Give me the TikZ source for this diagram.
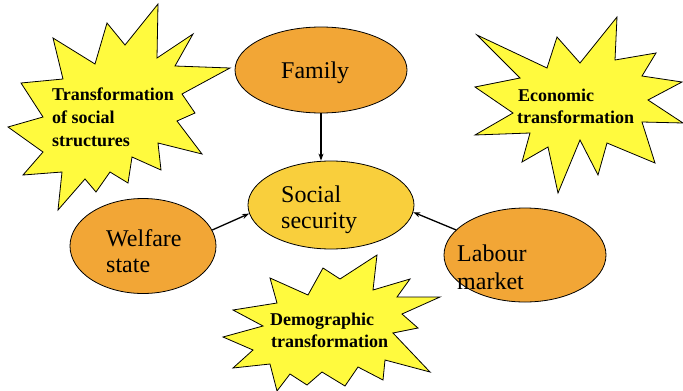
\documentclass[tikz,border=0pt]{standalone}
\usepackage{fontspec}
\setmainfont{Liberation Serif}
\usetikzlibrary{shapes.geometric,arrows.meta}
\definecolor{orangefill}{RGB}{242,166,54}
\definecolor{secfill}{RGB}{249,207,60}
\definecolor{staryellow}{RGB}{255,250,62}
\begin{document}
\begin{tikzpicture}[x=1pt,y=-1pt,
 oval/.style={ellipse,draw=black,line width=0.8pt,inner sep=0pt},
 burst/.style={draw=black,line width=0.8pt,fill=staryellow,line join=miter},
 bigtxt/.style={font=\fontsize{24}{28}\selectfont,inner sep=0pt,anchor=base west},
 boldtxt/.style={font=\fontsize{18}{22}\selectfont\bfseries,inner sep=0pt,anchor=base west},
 link/.style={-{Stealth[length=7pt,width=5pt]},line width=1.3pt}]
\useasboundingbox (0,0) rectangle (683,391);
\fill[white] (0,0) rectangle (683,391);
% starburst 1
\draw[burst] (158,4) -- (157,58) -- (193,34) -- (175,66) -- (230,68) -- (182,94) -- (195,113) -- (177,121) -- (202,154) -- (158,143) -- (161,170) -- (132,157) -- (128,183) -- (110,172) -- (96,192) -- (85,179) -- (58,210) -- (62,172) -- (23,175) -- (43,152) -- (8,127) -- (43,117) -- (21,83) -- (63,79) -- (53,38) -- (95,64) -- (107,23) -- (125,45) -- cycle;
% starburst 2
\draw[burst] (617,17) -- (615,60) -- (656,53) -- (642,76) -- (682,82) -- (648,100) -- (683,123) -- (642,122) -- (655,163) -- (607,143) -- (598,175) -- (580,140) -- (558,193) -- (548,147) -- (522,162) -- (530,133) -- (475,135) -- (513,113) -- (475,87) -- (520,78) -- (477,35) -- (547,68) -- (557,37) -- (580,63) -- cycle;
% starburst 3
\draw[burst] (377,255) -- (373,290) -- (410,279) -- (397,297) -- (440,297) -- (402,314) -- (418,328) -- (393,333) -- (430,372) -- (385,360) -- (383,380) -- (358,367) -- (345,386) -- (322,372) -- (307,385) -- (290,374) -- (277,391) -- (270,364) -- (233,368) -- (253,350) -- (223,337) -- (263,326) -- (233,310) -- (277,303) -- (270,278) -- (308,295) -- (323,268) -- (340,279) -- cycle;
% ellipses
\node[oval,fill=orangefill,minimum width=172pt,minimum height=86pt] (family) at (321,70) {};
\node[oval,fill=secfill,minimum width=166pt,minimum height=88pt] (social) at (331,205) {};
\node[oval,fill=orangefill,minimum width=146pt,minimum height=95pt] (welfare) at (143,246) {};
\node[oval,fill=orangefill,minimum width=162pt,minimum height=94pt] (labour) at (525,255) {};
% texts
\node[bigtxt] (tfam) at (281,78) {Family};
\node[bigtxt] (tsoc1) at (281,202) {Social};
\node[bigtxt] (tsoc2) at (281,228) {security};
\node[bigtxt] (twel1) at (106,246) {Welfare};
\node[bigtxt] (twel2) at (106,272) {state};
\node[bigtxt] (tlab1) at (457,261) {Labour};
\node[bigtxt] (tlab2) at (457,289) {market};
\node[boldtxt] (s1a) at (52,100) {Transformation};
\node[boldtxt] (s1b) at (52,123) {of social};
\node[boldtxt] (s1c) at (52,146) {structures};
\node[boldtxt] (s2a) at (518,101) {Economic};
\node[boldtxt] (s2b) at (517,123) {transformation};
\node[boldtxt] (s3a) at (270,325) {Demographic};
\node[boldtxt] (s3b) at (271,347) {transformation};
% connectors
\draw[link] (family.south) -- (family.south |- social.north);
\draw[link] (welfare.13) -- (social.186);
\draw[link] (labour.160) -- (social.355);
\end{tikzpicture}
\end{document}
